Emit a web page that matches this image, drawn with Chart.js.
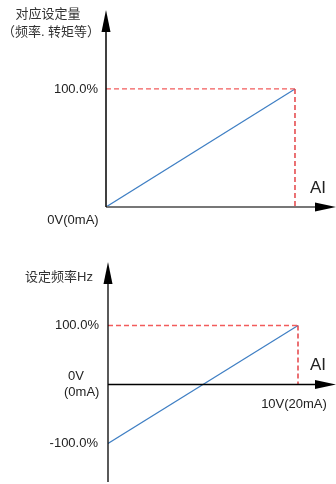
<!DOCTYPE html>
<html>
<head>
<meta charset="utf-8">
<script src="https://cdn.jsdelivr.net/npm/chart.js@4"></script>
<style>
body{margin:0;background:#fff;}
canvas{display:block;}
</style>
</head>
<body>
<canvas id="chartTop" width="336" height="240"></canvas>
<canvas id="chartBottom" width="336" height="244"></canvas>
<script>
// input voltage (V) and set value (%)
var volts = [0, 10];
var topSetting = [0, 100];
var bottomSetting = [-100, 100];
var topTicks = ['100.0%'];
var bottomTicks = ['100.0%', '-100.0%'];

var FONT = '"Liberation Sans", Arial, "Noto Sans CJK SC", sans-serif';
var TEXT = '#222';

function pts(xs, ys) {
    return xs.map(function (x, i) { return { x: x, y: ys[i] }; });
}

function lineSet(data, color, dash) {
    return {
        data: data,
        borderColor: color,
        borderWidth: dash ? 1.3 : 1.2,
        borderDash: dash || [],
        pointRadius: 0,
        fill: false,
        tension: 0
    };
}

// draws the arrow axes and the text labels from the chart's scales
function arrowAxes(opts) {
    return {
        id: 'arrowAxes',
        afterDatasetsDraw: function (chart) {
            var ctx = chart.ctx;
            var xs = chart.scales.x, ys = chart.scales.y;
            var area = chart.chartArea;
            var ox = xs.getPixelForValue(0), oy = ys.getPixelForValue(0);
            var yEnd = opts.yToMin ? area.bottom : oy;
            ctx.save();
            // x axis
            ctx.strokeStyle = opts.xColor;
            ctx.fillStyle = '#000';
            ctx.lineWidth = opts.xWidth;
            ctx.beginPath();
            ctx.moveTo(ox, oy);
            ctx.lineTo(area.right - 18, oy);
            ctx.stroke();
            ctx.beginPath();
            ctx.moveTo(area.right, oy);
            ctx.lineTo(area.right - 21, oy - 4.5);
            ctx.lineTo(area.right - 21, oy + 4.5);
            ctx.closePath();
            ctx.fill();
            // y axis
            ctx.strokeStyle = '#000';
            ctx.lineWidth = opts.yWidth;
            ctx.beginPath();
            ctx.moveTo(ox, yEnd);
            ctx.lineTo(ox, area.top + 18);
            ctx.stroke();
            ctx.beginPath();
            ctx.moveTo(ox, area.top);
            ctx.lineTo(ox - 4.5, area.top + 22);
            ctx.lineTo(ox + 4.5, area.top + 22);
            ctx.closePath();
            ctx.fill();
            // labels
            ctx.textBaseline = 'middle';
            opts.labels(xs, ys, ox, oy).forEach(function (l) {
                ctx.font = (l.size || 13) + 'px ' + FONT;
                ctx.fillStyle = l.color || TEXT;
                ctx.textAlign = l.align || 'left';
                ctx.fillText(l.text, l.x, l.y);
            });
            ctx.restore();
        }
    };
}

function baseOptions(pad, xMax, yMin, yMax) {
    return {
        responsive: false,
        animation: false,
        layout: { padding: pad },
        plugins: { legend: { display: false }, tooltip: { enabled: false } },
        scales: {
            x: { type: 'linear', display: false, min: 0, max: xMax },
            y: { type: 'linear', display: false, min: yMin, max: yMax }
        }
    };
}

new Chart(document.getElementById('chartTop'), {
    type: 'line',
    data: {
        datasets: [
            lineSet(pts([0, volts[1]], [topSetting[1], topSetting[1]]), '#f25c5c', [5, 3]),
            lineSet(pts([volts[1], volts[1]], [topSetting[1], 0]), '#e0262a', [5, 3]),
            lineSet(pts(volts, topSetting), '#3f7fc4')
        ]
    },
    options: baseOptions({ left: 106, right: 0, top: 10, bottom: 33 }, 12.17, 0, 166.9),
    plugins: [arrowAxes({
        xColor: '#777', xWidth: 2, yWidth: 1.5, yToMin: false,
        labels: function (xs, ys, ox, oy) {
            return [
                { text: '对应设定量', x: ox - 58, y: 14, align: 'center', color: '#333' },
                { text: '（频率. 转矩等）', x: ox - 55, y: 32, align: 'center', color: '#333' },
                { text: topTicks[0], x: ox - 8, y: ys.getPixelForValue(100), align: 'right' },
                { text: 'AI', x: 310, y: oy - 19, size: 17 },
                { text: '0V(0mA)', x: ox - 33, y: oy + 13, align: 'center' }
            ];
        }
    })]
});

new Chart(document.getElementById('chartBottom'), {
    type: 'line',
    data: {
        datasets: [
            lineSet(pts([0, volts[1]], [bottomSetting[1], bottomSetting[1]]), '#f25c5c', [5, 3]),
            lineSet(pts([volts[1], volts[1]], [bottomSetting[1], 0]), '#e0262a', [5, 3]),
            lineSet(pts(volts, bottomSetting), '#3f7fc4')
        ]
    },
    options: baseOptions({ left: 108, right: 0, top: 22, bottom: 2 }, 12.0, -165.3, 207.6),
    plugins: [arrowAxes({
        xColor: '#000', xWidth: 1.3, yWidth: 1.3, yToMin: true,
        labels: function (xs, ys, ox, oy) {
            return [
                { text: '设定频率Hz', x: ox - 15, y: 37, align: 'right', color: '#333' },
                { text: bottomTicks[0], x: ox - 9, y: ys.getPixelForValue(100), align: 'right' },
                { text: bottomTicks[1], x: ox - 10, y: ys.getPixelForValue(-100), align: 'right' },
                { text: '0V', x: ox - 40, y: oy - 8 },
                { text: '(0mA)', x: ox - 44, y: oy + 8 },
                { text: '10V(20mA)', x: xs.getPixelForValue(10) - 4, y: oy + 20, align: 'center' },
                { text: 'AI', x: 310, y: oy - 19, size: 17 }
            ];
        }
    })]
});
</script>
</body>
</html>
